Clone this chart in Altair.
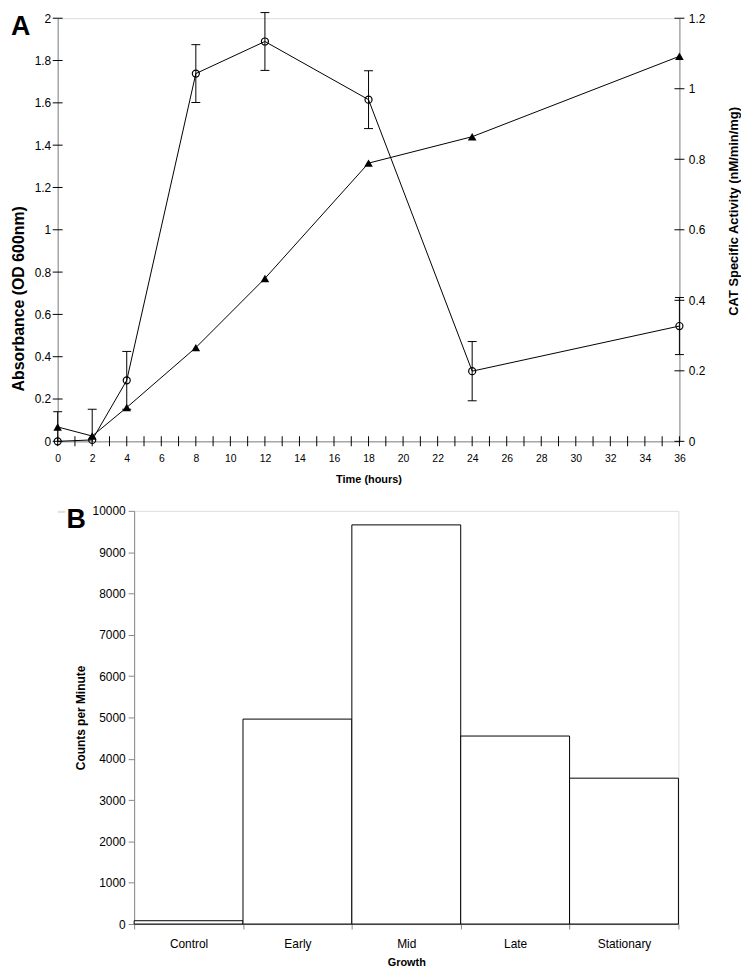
import altair as alt
import pandas as pd

# ---------------- Panel A data ----------------
hours = [0, 2, 4, 8, 12, 18, 24, 36]
absorbance = [0.068, 0.025, 0.16, 0.443, 0.77, 1.315, 1.44, 1.82]          # triangles, left axis
cat_activity = [0.0, 0.004, 0.173, 1.043, 1.134, 0.969, 0.199, 0.327]       # circles, right axis
cat_error = [0.084, 0.087, 0.082, 0.082, 0.082, 0.082, 0.084, 0.081]

left_ticks = [0, 0.2, 0.4, 0.6, 0.8, 1, 1.2, 1.4, 1.6, 1.8, 2]
right_ticks = [0, 0.2, 0.4, 0.6, 0.8, 1, 1.2]
hour_ticks = list(range(0, 37))

# ---------------- Panel B data ----------------
phases = ["Control", "Early", "Mid", "Late", "Stationary"]
counts = [80, 4960, 9660, 4550, 3530]
count_ticks = [0, 1000, 2000, 3000, 4000, 5000, 6000, 7000, 8000, 9000, 10000]

FONT = "Liberation Sans"

dfA = pd.DataFrame({
    "hours": hours,
    "abs": absorbance,
    "cat": cat_activity,
    "lo": [max(0.0, c - e) for c, e in zip(cat_activity, cat_error)],
    "hi": [c + e for c, e in zip(cat_activity, cat_error)],
})

x_scale = alt.Scale(domain=[0, 36], nice=False, zero=True)
x_axis = alt.Axis(
    values=hour_ticks,
    labelExpr="datum.value % 2 == 0 ? datum.label : ''",
    title="Time (hours)",
    ticks=False,
    tickSize=0,
    grid=False,
    labelPadding=12,
    labelFontSize=10.5,
    titleFontSize=11,
    titlePadding=10,
    labelFlush=False,
    labelOverlap=False,
)
xA = alt.X("hours:Q", scale=x_scale, axis=x_axis)

baseA = alt.Chart(dfA).encode(x=xA)

left_scale = alt.Scale(domain=[0, 2], nice=False, zero=True)
left_axis = alt.Axis(
    orient="left",
    values=left_ticks,
    format="~g",
    title="Absorbance (OD 600nm)",
    ticks=False,
    tickSize=0,
    grid=False,
    labelPadding=7,
    labelFontSize=12,
    titleFontSize=16,
    titleAngle=270,
    titleX=-39,
    titleY=282,
    titleBaseline="middle",
    labelFlush=False,
)

right_scale = alt.Scale(domain=[0, 1.2], nice=False, zero=True)
right_axis = alt.Axis(
    orient="right",
    values=right_ticks,
    format="~g",
    title="CAT Specific Activity (nM/min/mg)",
    ticks=False,
    tickSize=0,
    grid=False,
    labelPadding=9,
    labelFontSize=12,
    titleFontSize=13,
    titleAngle=270,
    titleX=54,
    titleY=194,
    titleBaseline="middle",
    labelFlush=False,
)

# crossing tick marks, placed through the scales
df_xt = pd.DataFrame({"hours": hour_ticks, "zero": [0] * len(hour_ticks)})
df_lt = pd.DataFrame({"v": left_ticks, "x0": [0] * len(left_ticks)})
df_rt = pd.DataFrame({"v": right_ticks, "x36": [36] * len(right_ticks)})

x_ticks = alt.Chart(df_xt).mark_tick(orient="vertical", size=10, thickness=1, color="black", opacity=1).encode(
    x=xA, y=alt.Y("zero:Q", scale=left_scale, axis=left_axis)
)
l_ticks = alt.Chart(df_lt).mark_tick(orient="horizontal", size=10, thickness=1, color="black", opacity=1).encode(
    x=alt.X("x0:Q", scale=x_scale, axis=x_axis), y=alt.Y("v:Q", scale=left_scale, axis=left_axis)
)

tri_line = baseA.mark_line(color="black", strokeWidth=1).encode(
    y=alt.Y("abs:Q", scale=left_scale, axis=left_axis)
)
tri_pts = baseA.mark_point(shape="triangle-up", filled=True, color="black", size=75, opacity=1).encode(
    y=alt.Y("abs:Q", scale=left_scale, axis=left_axis)
)
left_layer = alt.layer(x_ticks, l_ticks, tri_line, tri_pts)

r_ticks = alt.Chart(df_rt).mark_tick(orient="horizontal", size=10, thickness=1, color="black", opacity=1).encode(
    x=alt.X("x36:Q", scale=x_scale, axis=x_axis), y=alt.Y("v:Q", scale=right_scale, axis=right_axis)
)
err_rule = baseA.mark_rule(color="black", strokeWidth=1).encode(
    y=alt.Y("lo:Q", scale=right_scale, axis=right_axis), y2="hi:Q"
)
cap_hi = baseA.mark_tick(orient="horizontal", size=9, thickness=1, color="black", opacity=1).encode(
    y=alt.Y("hi:Q", scale=right_scale, axis=right_axis)
)
cap_lo = baseA.mark_tick(orient="horizontal", size=9, thickness=1, color="black", opacity=1).encode(
    y=alt.Y("lo:Q", scale=right_scale, axis=right_axis)
).transform_filter("datum.lo > 0")
circ_line = baseA.mark_line(color="black", strokeWidth=1).encode(
    y=alt.Y("cat:Q", scale=right_scale, axis=right_axis)
)
circ_pts = baseA.mark_point(shape="circle", filled=False, color="black", size=50, strokeWidth=1.2, opacity=1).encode(
    y=alt.Y("cat:Q", scale=right_scale, axis=right_axis)
)
right_layer = alt.layer(r_ticks, err_rule, cap_hi, cap_lo, circ_line, circ_pts)

letterA = alt.Chart(pd.DataFrame({"t": ["A"]})).mark_text(
    fontSize=27, fontWeight="bold", align="left", baseline="top", font=FONT, color="black"
).encode(x=alt.value(-47), y=alt.value(-4), text="t:N")

panelA = alt.layer(left_layer, right_layer, letterA).resolve_scale(y="independent").properties(
    width=626, height=426
)

# ---------------- Panel B ----------------
dfB = pd.DataFrame({"phase": phases, "cpm": counts})

bars = alt.Chart(dfB).mark_bar(fill="white", stroke="black", strokeWidth=1).encode(
    x=alt.X(
        "phase:N",
        sort=phases,
        scale=alt.Scale(paddingInner=0, paddingOuter=0),
        axis=alt.Axis(
            labelAngle=0,
            tickBand="extent",
            title="Growth",
            tickSize=5,
            grid=False,
            labelPadding=10,
            labelFontSize=12,
            titleFontSize=11,
            titlePadding=7,
        ),
    ),
    y=alt.Y(
        "cpm:Q",
        scale=alt.Scale(domain=[0, 10000], nice=False),
        axis=alt.Axis(
            values=count_ticks,
            format="d",
            title="Counts per Minute",
            tickSize=6,
            grid=False,
            labelPadding=3,
            labelFontSize=12,
            titleFontSize=12,
            titlePadding=5,
            labelFlush=False,
        ),
    ),
)

letterB = alt.Chart(pd.DataFrame({"t": ["B"]})).mark_text(
    fontSize=27, fontWeight="bold", align="left", baseline="top", font=FONT, color="black"
).encode(x=alt.value(-68), y=alt.value(-4), text="t:N")

panelB = alt.layer(bars, letterB).properties(width=548, height=416)

spacer = alt.Chart(pd.DataFrame({"s": [0]})).mark_rect(opacity=0).encode(
    x=alt.value(0), x2=alt.value(7), y=alt.value(0), y2=alt.value(1)
).properties(width=7, height=1)

rowB = alt.hconcat(spacer, panelB, spacing=0)

chart = (
    alt.vconcat(panelA, rowB, spacing=19)
    .properties(padding={"left": 2, "top": 0, "right": 0, "bottom": 0})
    .configure_view(stroke=None)
    .configure_axis(
        domainColor="black",
        tickColor="black",
        labelColor="black",
        titleColor="black",
        labelFont=FONT,
        titleFont=FONT,
        titleFontWeight="bold",
        grid=False,
    )
    .configure(background="white")
)

chart.save("out.html", embed_options={"renderer": "svg", "actions": False})
